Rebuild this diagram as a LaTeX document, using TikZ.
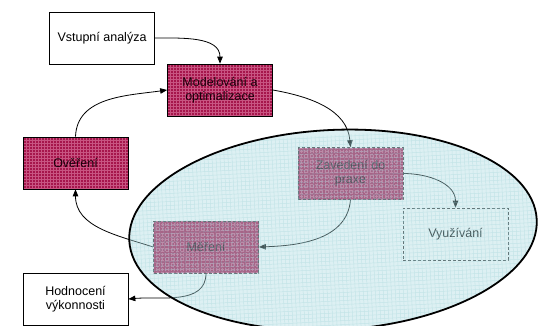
\documentclass[tikz,border=0pt]{standalone}
\usepackage{fontspec}
\setmainfont{Liberation Sans}
\usetikzlibrary{arrows.meta}
\definecolor{crim}{RGB}{166,22,76}
\definecolor{crimgrid}{RGB}{200,85,130}
\definecolor{cyanov}{RGB}{170,218,224}
\definecolor{cyangrid}{RGB}{150,205,212}
\definecolor{redtext}{RGB}{25,0,10}
\begin{document}
\begin{tikzpicture}[x=1pt,y=1pt,
  box/.style={draw=black, line width=0.7pt, minimum width=105pt, minimum height=52pt,
    align=center, font=\fontsize{12.5}{14}\selectfont, inner sep=0pt},
  redbox/.style={box, fill=crim, text=redtext,
    path picture={\draw[crimgrid, line width=0.4pt]
      ([shift={(-3,-3)}]path picture bounding box.south west) grid[step=3]
      (path picture bounding box.north east);}},
  innerbox/.style={densely dashed, draw=black!80},
  arr/.style={line width=0.8pt, -{Triangle[length=7pt,width=5.5pt]}},
]
\useasboundingbox (0,0) rectangle (538,325);

% outer boxes
\node[box, fill=white] (va) at (102,287) {Vstupní analýza};
\node[redbox] (mo) at (220,235) {Modelování a\\optimalizace};
\node[redbox] (ov) at (75.5,162) {Ověření};
\node[box, fill=white] (ho) at (75.5,26) {Hodnocení\\výkonnosti};

% inner boxes (under the ellipse)
\node[redbox, innerbox] (za) at (350.5,151.5) {Zavedení do\\praxe};
\node[box, fill=white, innerbox] (vy) at (455.5,91) {Využívání};
\node[redbox, innerbox] (me) at (206,78) {Měření};

% connectors
\draw[arr] (va.east) to[out=0,in=90] (mo.north);
\draw[arr] (ov.north) to[out=88,in=188] (mo.west);
\draw[arr] (mo.east) to[out=-10,in=95] (za.north);
\draw[arr] (za.east) to[out=0,in=90] (vy.north);
\draw[arr] (za.south) to[out=-95,in=2] (me.east);
\draw[arr] (me.west) to[out=162,in=-90] (ov.south);
\draw[arr] (me.south) to[out=-90,in=5] (ho.east);

% ellipse overlay
\begin{scope}[rotate around={3:(333,95)}]
  \path[fill=cyanov, fill opacity=0.4,
    path picture={\draw[cyangrid, line width=0.5pt, draw opacity=0.35]
      ([shift={(-4,-4)}]path picture bounding box.south west) grid[step=4]
      (path picture bounding box.north east);}]
    (333,95) ellipse [x radius=204, y radius=100];
  \draw[line width=1.8pt] (333,95) ellipse [x radius=204, y radius=100];
\end{scope}
\end{tikzpicture}
\end{document}
